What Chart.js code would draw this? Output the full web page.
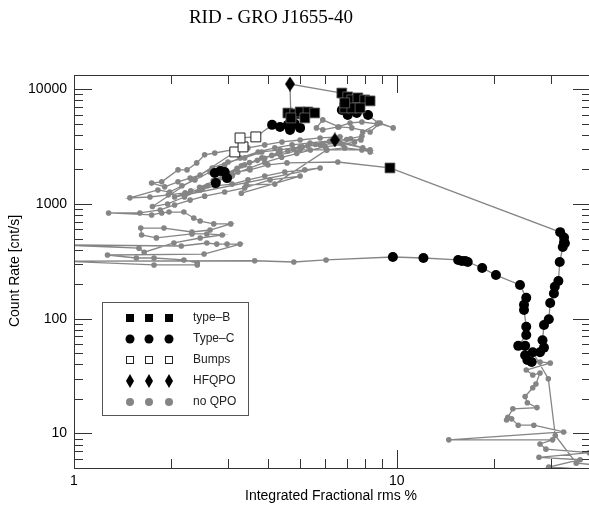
<!DOCTYPE html>
<html>
<head>
<meta charset="utf-8">
<script src="https://cdn.jsdelivr.net/npm/chart.js@4"></script>
<style>
  html, body { margin: 0; padding: 0; background: #fff; overflow: hidden; }
  #wrap { width: 591px; height: 506px; }
</style>
</head>
<body>
<div id="wrap"><canvas id="chart" width="591" height="506"></canvas></div>
<script>
// [integrated fractional rms %, count rate cnt/s, QPO type]
// N = no QPO, B = type-B, C = type-C, U = bump, H = HFQPO
const riseTrack = [
  [42, 5.3, 'N'], [36, 5.5, 'N'], [31, 9.6, 'N'], [29.5, 30, 'N'],
  [26.4, 51, 'C'], [27.8, 51, 'C'], [28.6, 56, 'C'], [28.3, 65, 'C'], [28.6, 88, 'C'],
  [29.6, 99, 'C'], [29.9, 137, 'C'], [30.7, 166, 'C'], [30.9, 190, 'C'], [31.7, 213, 'C'],
  [32.0, 312, 'C'], [32.7, 421, 'C'], [33.0, 463, 'C'], [33.2, 455, 'C'], [33.0, 510, 'C'],
  [32.1, 568, 'C'],
  [9.53, 2060, 'B']
];

const flareTrack = [
  [6.57, 2320, 'N'], [4.57, 2280, 'N'], [3.99, 2190, 'N'], [3.51, 1980, 'N'], [3.22, 1900, 'N'], [3.09, 1750, 'N'],
  [2.98, 1680, 'C'], [2.93, 1900, 'C'], [2.84, 1940, 'C'], [2.73, 1860, 'C'], [2.75, 1520, 'C'],
  [3.38, 2190, 'N'], [3.82, 2520, 'N'], [4.35, 2680, 'N'], [5.02, 2960, 'N'], [6.07, 2960, 'N'],
  [6.90, 3080, 'N'], [7.80, 2960, 'N'], [8.27, 2840, 'N'], [7.85, 3080, 'N'], [6.67, 3400, 'N'],
  [5.79, 3270, 'N'], [5.02, 3140, 'N'], [4.35, 2960, 'N'], [3.82, 2840, 'N'], [3.38, 2520, 'N'],
  [3.00, 2320, 'N'], [2.68, 2060, 'N'], [2.46, 1790, 'N'], [2.29, 1680, 'N'], [2.10, 1560, 'N'],
  [1.91, 1410, 'N'], [1.74, 1520, 'N'],
  [1.87, 1560, 'N'], [2.10, 1980, 'N'], [2.24, 1980, 'N'], [2.40, 2280, 'N'], [2.54, 2680, 'N'],
  [2.73, 2780, 'N'], [3.09, 2960, 'N'], [3.46, 3080, 'N'], [3.90, 3270, 'N'], [4.41, 3470, 'N'],
  [5.02, 3610, 'N'], [5.79, 3760, 'N'], [6.67, 3840, 'N'],
  [6.21, 3540, 'N'], [5.39, 3400, 'N'], [4.74, 3270, 'N'], [4.19, 3080, 'N'], [3.72, 2840, 'N'],
  [3.27, 2520, 'N'], [2.93, 2190, 'N'], [2.64, 1900, 'N'], [2.37, 1620, 'N'], [2.16, 1440, 'N'],
  [1.98, 1270, 'N'], [1.82, 1325, 'N'], [1.49, 1130, 'N'],
  [1.72, 1150, 'N'], [1.96, 1200, 'N'], [2.21, 1250, 'N'], [2.46, 1325, 'N'], [2.73, 1440, 'N'],
  [3.09, 1490, 'N'], [3.46, 1620, 'N'], [3.90, 1750, 'N'], [4.50, 1900, 'N'], [5.19, 1980, 'N'],
  [5.79, 2060, 'N'],
  [2.05, 1150, 'N'], [2.30, 1300, 'N'], [2.20, 1200, 'N'], [2.60, 1450, 'N'], [2.45, 1400, 'N'],
  [2.90, 1700, 'N'], [2.70, 1600, 'N'], [3.20, 2050, 'N'], [3.00, 1850, 'N'], [3.50, 2300, 'N'],
  [3.30, 2150, 'N'], [3.90, 2500, 'N'], [3.70, 2400, 'N'], [4.30, 2800, 'N'], [4.10, 2650, 'N'],
  [4.80, 3000, 'N'], [4.60, 2900, 'N'], [5.30, 3200, 'N'], [5.10, 3150, 'N'], [5.90, 3350, 'N'],
  [5.60, 3300, 'N'], [6.50, 3550, 'N'], [6.20, 3500, 'N'], [7.20, 3700, 'N'], [7.00, 3650, 'N'],
  [7.80, 3900, 'N'], [7.40, 3450, 'N'], [6.80, 3300, 'N'], [6.00, 3150, 'N'], [5.40, 2950, 'N'],
  [4.90, 2750, 'N'], [4.40, 2550, 'N'], [3.90, 2300, 'N'], [3.50, 2050, 'N'], [3.10, 1800, 'N'],
  [2.80, 1600, 'N'], [2.50, 1350, 'N'], [2.20, 1150, 'N'], [1.95, 1000, 'N'], [1.75, 950, 'N'],
  [3.15, 2840, 'U'], [3.34, 3140, 'U'], [3.27, 3760, 'U'], [3.66, 3840, 'U'],
  [4.11, 4890, 'C'], [4.35, 4690, 'C'], [4.60, 4890, 'C'], [4.83, 4990, 'C'], [5.02, 4600, 'C'], [4.67, 4420, 'C'],
  [4.60, 6200, 'B'], [4.83, 6090, 'B'], [5.02, 6340, 'B'], [5.31, 6340, 'B'], [5.57, 6210, 'B'],
  [5.19, 5620, 'B'], [4.70, 5620, 'B'],
  [4.67, 11100, 'H'],
  [6.76, 9260, 'B'], [7.05, 8570, 'B'], [7.26, 8070, 'B'], [7.58, 8400, 'B'], [7.96, 8070, 'B'],
  [8.27, 7910, 'B'], [6.90, 6870, 'B'], [7.26, 6870, 'B'], [7.70, 6870, 'B'], [6.90, 7600, 'B'],
  [6.76, 6600, 'C'], [7.05, 5970, 'C'], [7.52, 6210, 'C'], [8.15, 5970, 'C'],
  [8.75, 5080, 'N'], [9.75, 4600, 'N'], [8.88, 5080, 'N'], [8.27, 4240, 'N'], [7.26, 4600, 'N'],
  [6.62, 4690, 'N'], [5.90, 5400, 'N'], [5.64, 4600, 'N'], [5.90, 4420, 'N'], [6.57, 4690, 'N'],
  [7.17, 5080, 'N'], [7.80, 5180, 'N'], [8.70, 4980, 'N'], [7.85, 4240, 'N'], [7.75, 3610, 'N'],
  [6.43, 3610, 'H'],
  [8.27, 2960, 'N'], [6.07, 2960, 'N'],
  [4.19, 1490, 'N'], [3.42, 1465, 'N'], [3.30, 1240, 'N'],
  [5.02, 1750, 'N'], [4.05, 1620, 'N'], [3.38, 1380, 'N'], [2.93, 1270, 'N'], [2.54, 1170, 'N'],
  [2.29, 1080, 'N'], [2.05, 980, 'N'], [1.85, 887, 'N'], [1.60, 835, 'N'], [1.28, 835, 'N'],
  [1.74, 802, 'N'], [1.87, 835, 'N'], [1.97, 850, 'N'], [2.19, 850, 'N'], [2.35, 755, 'N'],
  [2.46, 710, 'N'], [2.71, 670, 'N'], [3.06, 670, 'N'],
  [2.64, 593, 'N'], [2.32, 570, 'N'], [1.90, 616, 'N'], [1.61, 616, 'N'],
  [1.62, 537, 'N'], [1.80, 506, 'N'], [2.32, 548, 'N'], [2.58, 548, 'N'], [2.88, 537, 'N'],
  [2.46, 505, 'N'], [2.04, 457, 'N'], [1.65, 380, 'N'], [1.59, 412, 'N'],
  [0.9, 440, 'N'], [2.15, 430, 'N'], [2.58, 457, 'N'], [2.77, 447, 'N'], [2.98, 447, 'N'],
  [3.27, 447, 'N'], [2.53, 366, 'N'],
  [1.27, 359, 'N'], [1.56, 338, 'N'], [1.77, 338, 'N'], [2.19, 325, 'N'], [2.41, 306, 'N'],
  [2.41, 294, 'N'], [1.77, 294, 'N']
];

const decayTrack = [
  [0.9, 318, 'N'], [3.63, 320, 'N'], [4.80, 312, 'N'], [6.04, 325, 'N'],
  [9.73, 345, 'C'], [12.1, 338, 'C'], [15.5, 325, 'C'], [15.9, 318, 'C'], [16.3, 318, 'C'],
  [16.6, 312, 'C'], [18.4, 277, 'C'], [20.3, 240, 'C'], [24.1, 197, 'C'], [25.2, 152, 'C'],
  [24.8, 132, 'C'], [24.8, 119, 'C'], [25.2, 85, 'C'], [25.2, 72, 'C'], [23.8, 58, 'C'],
  [25.0, 58, 'C'], [25.0, 48, 'C'], [25.4, 43.6, 'C'], [26.2, 42, 'C'],
  [27.8, 42, 'N'], [29.9, 41, 'N'], [25.2, 35.7, 'N'], [26.4, 32.3, 'N'], [27.8, 33.6, 'N'],
  [27.0, 27, 'N'], [26.4, 25, 'N'], [25.0, 21, 'N'], [25.4, 18.5, 'N'], [27.2, 16.8, 'N'],
  [22.9, 16.4, 'N'], [22.1, 13.8, 'N'], [21.9, 13.1, 'N'], [22.7, 13.4, 'N'], [23.8, 11.8, 'N'],
  [26.6, 11.8, 'N'], [32.9, 10.3, 'N'], [14.5, 8.8, 'N'], [30.4, 8.8, 'N'], [27.8, 8.1, 'N'],
  [29.0, 7.3, 'N'], [39.5, 6.8, 'N'], [27.6, 6.2, 'N'], [37, 5.9, 'N'], [29.6, 5.1, 'N'],
  [42, 4.8, 'N']
];

const xTickLabels = [1, 10];
const yTickLabels = [10, 100, 1000, 10000];
const legendItems = ['type\u2013B', 'Type\u2013C', 'Bumps', 'HFQPO', 'no QPO'];

const GREY = '#858585';
const track = riseTrack.concat(flareTrack, decayTrack);
const pick = code => track.filter(p => p[2] === code).map(p => ({ x: p[0], y: p[1] }));

function makeDiamond(w, h) {
  const c = document.createElement('canvas');
  c.width = w; c.height = h;
  const g = c.getContext('2d');
  g.fillStyle = '#000';
  g.beginPath();
  g.moveTo(w / 2, 0); g.lineTo(w, h / 2); g.lineTo(w / 2, h); g.lineTo(0, h / 2);
  g.closePath();
  g.fill();
  return c;
}
const diamond = makeDiamond(10, 15);
const diamondSmall = makeDiamond(8, 14);

// frame, inward ticks, labels, titles and legend
const frame = {
  id: 'frame',
  afterDraw(chart) {
    const { ctx, chartArea: a, scales: { x, y } } = chart;
    ctx.save();
    ctx.strokeStyle = '#333';
    ctx.lineWidth = 1;
    ctx.strokeRect(a.left + 0.5, a.top + 0.5, a.right - a.left - 1, a.bottom - a.top);

    ctx.beginPath();
    for (let d = 1; d <= 10; d *= 10) {
      for (let m = 1; m <= 9; m++) {
        const v = m * d;
        if (v <= x.min || v >= x.max) continue;
        const px = Math.round(x.getPixelForValue(v)) + 0.5;
        const len = m === 1 ? 18 : 9;
        ctx.moveTo(px, a.bottom); ctx.lineTo(px, a.bottom - len);
        ctx.moveTo(px, a.top); ctx.lineTo(px, a.top + len);
      }
    }
    for (let d = 1; d <= 10000; d *= 10) {
      for (let m = 1; m <= 9; m++) {
        const v = m * d;
        if (v <= y.min || v >= y.max) continue;
        const py = Math.round(y.getPixelForValue(v)) + 0.5;
        const len = m === 1 ? 18 : 9;
        ctx.moveTo(a.left, py); ctx.lineTo(a.left + len, py);
        ctx.moveTo(a.right, py); ctx.lineTo(a.right - len, py);
      }
    }
    ctx.stroke();

    ctx.fillStyle = '#000';
    ctx.font = '14px "Liberation Sans", Arial, sans-serif';
    ctx.textAlign = 'center';
    ctx.textBaseline = 'middle';
    xTickLabels.forEach(v => ctx.fillText(String(v), x.getPixelForValue(v), 481));
    ctx.textAlign = 'right';
    yTickLabels.forEach(v => ctx.fillText(String(v), 67, y.getPixelForValue(v)));

    ctx.textAlign = 'center';
    ctx.textBaseline = 'alphabetic';
    ctx.fillText('Integrated Fractional rms %', 331, 500);
    ctx.save();
    ctx.translate(19, 271);
    ctx.rotate(-Math.PI / 2);
    ctx.fillText('Count Rate [cnt/s]', 0, 0);
    ctx.restore();

    ctx.font = '19px "Liberation Serif", "Times New Roman", serif';
    ctx.fillText('RID - GRO J1655-40', 271, 23);

    // legend box
    ctx.fillStyle = '#fff';
    ctx.fillRect(102.5, 302.5, 146, 113);
    ctx.strokeStyle = '#555';
    ctx.strokeRect(102.5, 302.5, 146, 113);
    const rows = [318, 339, 360, 381, 402];
    const cols = [130, 149, 169];
    rows.forEach((ry, i) => {
      cols.forEach(cx => {
        ctx.beginPath();
        if (i === 0) {
          ctx.fillStyle = '#000';
          ctx.fillRect(cx - 4, ry - 4, 8, 8);
        } else if (i === 1) {
          ctx.fillStyle = '#000';
          ctx.arc(cx, ry, 4.5, 0, Math.PI * 2);
          ctx.fill();
        } else if (i === 2) {
          ctx.strokeStyle = '#222';
          ctx.strokeRect(cx - 3.5, ry - 3.5, 7, 7);
        } else if (i === 3) {
          ctx.drawImage(diamondSmall, cx - 4, ry - 7);
        } else {
          ctx.fillStyle = GREY;
          ctx.arc(cx, ry, 4, 0, Math.PI * 2);
          ctx.fill();
        }
      });
      ctx.fillStyle = '#222';
      ctx.font = '12px "Liberation Sans", Arial, sans-serif';
      ctx.textAlign = 'left';
      ctx.textBaseline = 'middle';
      ctx.fillText(legendItems[i], 193, ry);
    });
    ctx.restore();
  }
};

new Chart(document.getElementById('chart'), {
  type: 'scatter',
  data: {
    datasets: [
      {
        label: 'track', order: 6, showLine: true,
        data: track.map(p => ({ x: p[0], y: p[1] })),
        borderColor: GREY, borderWidth: 1.3, pointRadius: 0
      },
      {
        label: 'no QPO', order: 5, data: pick('N'),
        pointStyle: 'circle', pointRadius: 2.8, pointBorderWidth: 0,
        pointBackgroundColor: GREY
      },
      {
        label: 'Bumps', order: 4, data: pick('U'),
        pointStyle: 'rect', pointRadius: 7, pointBorderWidth: 1,
        pointBackgroundColor: '#fff', pointBorderColor: '#222'
      },
      {
        label: 'Type-C', order: 3, data: pick('C'),
        pointStyle: 'circle', pointRadius: 5, pointBorderWidth: 0,
        pointBackgroundColor: '#000'
      },
      {
        label: 'type-B', order: 2, data: pick('B'),
        pointStyle: 'rect', pointRadius: 7, pointBorderWidth: 0.8,
        pointBackgroundColor: '#000', pointBorderColor: '#666'
      },
      {
        label: 'HFQPO', order: 1, data: pick('H'),
        pointStyle: diamond, pointRadius: 6
      }
    ]
  },
  options: {
    responsive: false,
    animation: false,
    devicePixelRatio: 1,
    layout: { autoPadding: false, padding: { left: 74, top: 75, right: 0, bottom: 38 } },
    plugins: { legend: { display: false }, tooltip: { enabled: false } },
    scales: {
      x: { type: 'logarithmic', min: 1, max: 40, display: false },
      y: { type: 'logarithmic', min: 5, max: 13300, display: false }
    }
  },
  plugins: [frame]
});
</script>
</body>
</html>
